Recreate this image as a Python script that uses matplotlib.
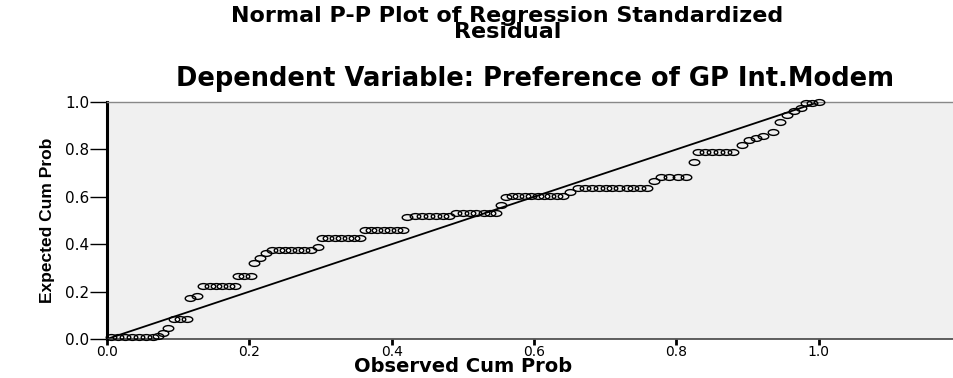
import numpy as np
import matplotlib.pyplot as plt
from matplotlib.path import Path
from matplotlib.transforms import Affine2D

# observed vs expected cumulative probabilities of the standardized residuals
obs_prob = [0.005, 0.015, 0.025, 0.035, 0.045, 0.055, 0.065, 0.072, 0.079, 0.086,
            0.094, 0.103, 0.112, 0.116, 0.126,
            0.135, 0.144, 0.153, 0.162, 0.171, 0.180,
            0.184, 0.193, 0.202,
            0.207, 0.215, 0.224,
            0.232, 0.241, 0.250, 0.259, 0.268, 0.277, 0.286, 0.296,
            0.302, 0.311, 0.320, 0.329, 0.338, 0.347, 0.356,
            0.362, 0.371, 0.380, 0.389, 0.398, 0.407, 0.416,
            0.422, 0.432, 0.442, 0.452, 0.462, 0.472, 0.481,
            0.491, 0.500, 0.510, 0.519, 0.529, 0.538, 0.547,
            0.553,
            0.560, 0.569, 0.578, 0.587, 0.596, 0.605, 0.614, 0.623, 0.632, 0.641,
            0.650,
            0.662, 0.672, 0.681, 0.691, 0.701, 0.710, 0.720, 0.730, 0.739, 0.749, 0.758,
            0.768,
            0.778, 0.790, 0.802, 0.814,
            0.824,
            0.830, 0.840, 0.850, 0.860, 0.870, 0.880,
            0.892, 0.902, 0.912, 0.922, 0.935, 0.946, 0.956, 0.965, 0.975, 0.982,
            0.990, 1.000]
exp_prob = [0.010, 0.010, 0.010, 0.010, 0.010, 0.010, 0.010, 0.013, 0.025, 0.045,
            0.085, 0.085, 0.085, 0.175, 0.180,
            0.222, 0.222, 0.222, 0.222, 0.222, 0.222,
            0.266, 0.266, 0.266,
            0.320, 0.340, 0.362,
            0.377, 0.377, 0.377, 0.377, 0.377, 0.377, 0.377, 0.388,
            0.428, 0.428, 0.428, 0.428, 0.428, 0.428, 0.428,
            0.460, 0.460, 0.460, 0.460, 0.460, 0.460, 0.460,
            0.515, 0.517, 0.517, 0.517, 0.517, 0.517, 0.517,
            0.532, 0.532, 0.532, 0.532, 0.532, 0.532, 0.532,
            0.565,
            0.598, 0.602, 0.602, 0.602, 0.602, 0.602, 0.602, 0.602, 0.602, 0.602,
            0.620,
            0.638, 0.638, 0.638, 0.638, 0.638, 0.638, 0.638, 0.638, 0.638, 0.638, 0.638,
            0.665,
            0.685, 0.685, 0.685, 0.685,
            0.745,
            0.790, 0.790, 0.790, 0.790, 0.790, 0.790,
            0.820, 0.840, 0.850, 0.856, 0.875, 0.915, 0.945, 0.962, 0.975, 0.995,
            0.997, 1.000]
ref_line = [0.0, 1.0]
ticks = [0.0, 0.2, 0.4, 0.6, 0.8, 1.0]
tick_labels = ['0.0', '0.2', '0.4', '0.6', '0.8', '1.0']

fig = plt.figure(figsize=(9.54, 3.78), dpi=100)
ax = fig.add_axes([0.1122, 0.1032, 0.8878, 0.627])
ax.set_facecolor('#f0f0f0')

# flattened open circles
ellipse = Path.unit_circle().transformed(Affine2D().scale(1, 0.55))
ax.plot(obs_prob, exp_prob, linestyle='none', marker=ellipse, markersize=7.6,
        markerfacecolor='none', markeredgecolor='black', markeredgewidth=1.0,
        clip_on=False, zorder=3)
ax.plot(ref_line, ref_line, color='black', linewidth=1.3, zorder=2)

ax.set_xlim(0, 1.19)
ax.set_ylim(0, 1.0)
ax.set_xticks(ticks)
ax.set_xticklabels(tick_labels)
ax.set_yticks(ticks)
ax.set_yticklabels(tick_labels)
ax.tick_params(axis='x', length=4, width=2, pad=0, labelsize=10)
ax.tick_params(axis='y', length=12, width=1, pad=1, labelsize=11)

ax.spines['left'].set_linewidth(2.2)
ax.spines['left'].set_color('black')
ax.spines['bottom'].set_linewidth(1.2)
ax.spines['bottom'].set_color('#444444')
ax.spines['top'].set_linewidth(1.0)
ax.spines['top'].set_color('#888888')
ax.spines['right'].set_visible(False)

ax.set_xlabel('Observed Cum Prob', fontsize=14, fontweight='bold')
ax.xaxis.set_label_coords(0.5 / 1.19, -0.075)
ax.set_ylabel('Expected Cum Prob', fontsize=12.5, fontweight='bold',
              family=['Liberation Sans', 'DejaVu Sans'])
ax.yaxis.set_label_coords(-0.062, 0.5)

fig.text(0.532, 0.985, 'Normal P-P Plot of Regression Standardized\nResidual',
         ha='center', va='top', fontsize=16, fontweight='bold', linespacing=0.8)
fig.text(0.561, 0.79, 'Dependent Variable: Preference of GP Int.Modem',
         ha='center', va='center', fontsize=18.5, fontweight='bold')

fig.savefig('out.png', dpi=100)
